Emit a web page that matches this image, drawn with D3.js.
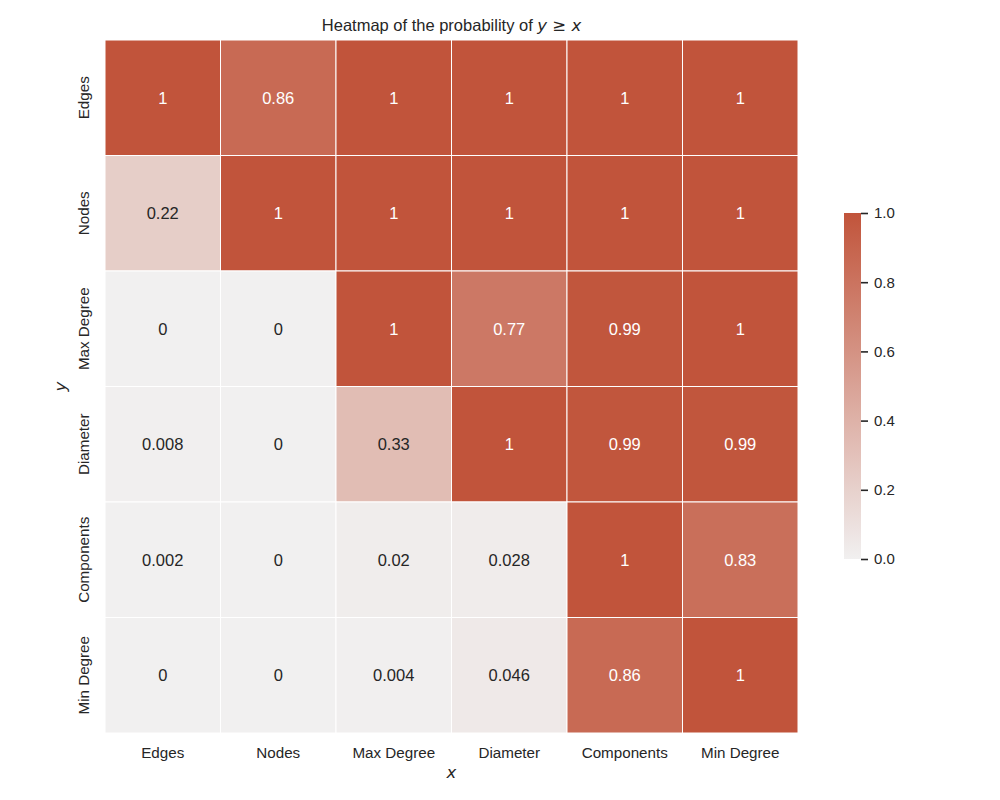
<!DOCTYPE html>
<html>
<head>
<meta charset="utf-8">
<script src="https://cdn.jsdelivr.net/npm/d3@7"></script>
<style>
body { margin: 0; background: #fff; }
svg { display: block; }
</style>
</head>
<body>
<svg id="chart" width="1000" height="800"></svg>
<script>
const xCategories = ["Edges", "Nodes", "Max Degree", "Diameter", "Components", "Min Degree"];
const yCategories = ["Edges", "Nodes", "Max Degree", "Diameter", "Components", "Min Degree"];
const rowEdges      = [1, 0.86, 1, 1, 1, 1];
const rowNodes      = [0.22, 1, 1, 1, 1, 1];
const rowMaxDegree  = [0, 0, 1, 0.77, 0.99, 1];
const rowDiameter   = [0.008, 0, 0.33, 1, 0.99, 0.99];
const rowComponents = [0.002, 0, 0.02, 0.028, 1, 0.83];
const rowMinDegree  = [0, 0, 0.004, 0.046, 0.86, 1];
const colorbarTicks = [0, 0.2, 0.4, 0.6, 0.8, 1.0];

(function () {
const matrix = [rowEdges, rowNodes, rowMaxDegree, rowDiameter, rowComponents, rowMinDegree];
const cells = [];
matrix.forEach((row, i) => row.forEach((v, j) => cells.push({ y: yCategories[i], x: xCategories[j], v })));

const svg = d3.select("#chart");
const font = "'Liberation Sans', Arial, sans-serif";
const textDark = "#262626";

const plotLeft = 105, plotRight = 798, plotTop = 40, plotBottom = 733;
const x = d3.scaleBand().domain(xCategories).range([plotLeft, plotRight]).padding(0);
const y = d3.scaleBand().domain(yCategories).range([plotTop, plotBottom]).padding(0);

const lightEnd = d3.rgb(241, 240, 240);
const darkEnd = d3.rgb(193, 84, 59);
const color = d3.scaleLinear().domain([0, 1]).range([lightEnd, darkEnd]).interpolate(d3.interpolateRgb);

function luminance(c) {
  const rgb = d3.rgb(c);
  const f = u => { u /= 255; return u <= 0.03928 ? u / 12.92 : Math.pow((u + 0.055) / 1.055, 2.4); };
  return 0.2126 * f(rgb.r) + 0.7152 * f(rgb.g) + 0.0722 * f(rgb.b);
}

// cells
svg.append("g").selectAll("rect").data(cells).join("rect")
  .attr("x", d => x(d.x)).attr("y", d => y(d.y))
  .attr("width", x.bandwidth()).attr("height", y.bandwidth())
  .attr("fill", d => color(d.v))
  .attr("stroke", "#ffffff").attr("stroke-width", 1);

// annotations
svg.append("g").selectAll("text").data(cells).join("text")
  .attr("x", d => x(d.x) + x.bandwidth() / 2)
  .attr("y", d => y(d.y) + y.bandwidth() / 2)
  .attr("text-anchor", "middle").attr("dominant-baseline", "central")
  .attr("font-family", font).attr("font-size", 16.5)
  .attr("fill", d => luminance(color(d.v)) > 0.408 ? textDark : "#ffffff")
  .text(d => String(d.v));

// x axis tick labels
const xAxis = d3.axisBottom(x).tickSize(0).tickPadding(14);
const gx = svg.append("g").attr("transform", `translate(0,${plotBottom})`).call(xAxis);
gx.select(".domain").remove();
gx.selectAll("text").attr("font-family", font).attr("font-size", 15.2).attr("fill", textDark);

// y axis tick labels (rotated)
const gy = svg.append("g");
gy.selectAll("text").data(yCategories).join("text")
  .attr("transform", d => `translate(${plotLeft - 16},${y(d) + y.bandwidth() / 2}) rotate(-90)`)
  .attr("text-anchor", "middle")
  .attr("font-family", font).attr("font-size", 15.2).attr("fill", textDark)
  .text(d => d);

// axis labels
svg.append("text")
  .attr("x", (plotLeft + plotRight) / 2).attr("y", 778)
  .attr("text-anchor", "middle")
  .attr("font-family", "'DejaVu Sans', sans-serif").attr("font-style", "italic")
  .attr("font-size", 16.5).attr("fill", textDark).text("x");
svg.append("text")
  .attr("transform", `translate(66,${(plotTop + plotBottom) / 2}) rotate(-90)`)
  .attr("text-anchor", "middle")
  .attr("font-family", "'DejaVu Sans', sans-serif").attr("font-style", "italic")
  .attr("font-size", 16.5).attr("fill", textDark).text("y");

// title
const title = svg.append("text")
  .attr("x", (plotLeft + plotRight) / 2).attr("y", 31)
  .attr("text-anchor", "middle")
  .attr("font-family", font).attr("font-size", 16.5).attr("fill", textDark);
title.append("tspan").text("Heatmap of the probability of ");
title.append("tspan").attr("font-family", "'DejaVu Sans', sans-serif").attr("font-style", "italic").text("y");
title.append("tspan").attr("font-family", "'DejaVu Sans', sans-serif").text(" ≥ ");
title.append("tspan").attr("font-family", "'DejaVu Sans', sans-serif").attr("font-style", "italic").text("x");

// colorbar
const cbX = 844, cbW = 17, cbTop = 213, cbBottom = 559;
const cScale = d3.scaleLinear().domain([0, 1]).range([cbBottom, cbTop]);
const defs = svg.append("defs");
const grad = defs.append("linearGradient").attr("id", "cbgrad")
  .attr("x1", "0").attr("y1", "1").attr("x2", "0").attr("y2", "0");
d3.range(0, 1.0001, 0.1).forEach(t => {
  grad.append("stop").attr("offset", t).attr("stop-color", color(t));
});
svg.append("rect").attr("x", cbX).attr("y", cbTop).attr("width", cbW).attr("height", cbBottom - cbTop)
  .attr("fill", "url(#cbgrad)");
const cAxis = d3.axisRight(cScale).tickValues(colorbarTicks).tickFormat(d3.format(".1f")).tickSize(7).tickPadding(6);
const gc = svg.append("g").attr("transform", `translate(${cbX + cbW},0)`).call(cAxis);
gc.select(".domain").remove();
gc.selectAll("line").attr("stroke", textDark).attr("stroke-width", 1.6);
gc.selectAll("text").attr("font-family", font).attr("font-size", 15).attr("fill", textDark);
})();
</script>
</body>
</html>
